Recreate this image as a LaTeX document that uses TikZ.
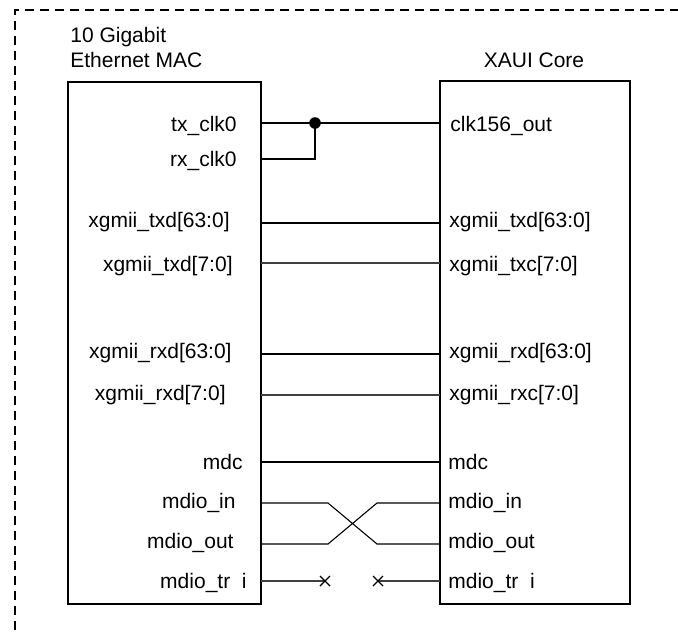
\documentclass[tikz,border=0pt]{standalone}
\usepackage{fontspec}
\setmainfont{Liberation Sans}
\usetikzlibrary{calc}
\begin{document}
\begin{tikzpicture}[x=0.5pt,y=-0.5pt,
  lab/.style={font=\fontsize{10.5}{12}\selectfont, inner sep=0pt},
  llab/.style={lab, anchor=base east},
  rlab/.style={lab, anchor=base west},
  block/.style={draw, line width=1.3pt, anchor=north west, inner sep=0pt, outer sep=0pt},
  wire/.style={line width=0.55pt},
  gwire/.style={line width=0.55pt, draw=black!75},
  border/.style={line width=1pt, dash pattern=on 4.5pt off 3pt}]
\useasboundingbox (0,0) rectangle (678,632);
\begin{scope}
\clip (0,0) rectangle (678,632);
\draw[border] (15,660) -- (15,10) -- (700,10);
\end{scope}
% titles
\node[lab, anchor=base west] (t1) at (70,42) {10 Gigabit};
\node[lab, anchor=base west] (t2) at (70,67) {Ethernet MAC};
\node[lab, anchor=base] (t3) at (534,67) {XAUI Core};
% blocks
\node[block, minimum width=96.5pt, minimum height=261pt] (mac) at (68,82) {};
\node[block, minimum width=95pt, minimum height=261.5pt] (xaui) at (440,81) {};
% left labels
\node[llab] (l1) at (237,131) {tx\_clk0};
\node[llab] (l2) at (237,166) {rx\_clk0};
\node[llab] (l3) at (230,227) {xgmii\_txd[63:0]};
\node[llab] (l4) at (233,271) {xgmii\_txd[7:0]};
\node[llab] (l5) at (232,358) {xgmii\_rxd[63:0]};
\node[llab] (l6) at (226,400) {xgmii\_rxd[7:0]};
\node[llab] (l7) at (243,469) {mdc};
\node[llab] (l8) at (236,508) {mdio\_in};
\node[llab] (l9) at (234,548) {mdio\_out};
\node[llab] (l10) at (247,588) {mdio\_tr~~i};
% right labels
\node[rlab] (r1) at (450,131) {clk156\_out};
\node[rlab] (r3) at (449,227) {xgmii\_txd[63:0]};
\node[rlab] (r4) at (449,271) {xgmii\_txc[7:0]};
\node[rlab] (r5) at (449,358) {xgmii\_rxd[63:0]};
\node[rlab] (r6) at (449,400) {xgmii\_rxc[7:0]};
\node[rlab] (r7) at (448,469) {mdc};
\node[rlab] (r8) at (448,508) {mdio\_in};
\node[rlab] (r9) at (448,548) {mdio\_out};
\node[rlab] (r10) at (448,588) {mdio\_tr~~i};
% port coordinates
\foreach \n/\y in {1/123,2/159,3/223,4/263,5/354,6/395,7/462,8/503,9/544,10/581}{
  \coordinate (pL\n) at (mac.east |- 0,\y);
  \coordinate (pR\n) at (xaui.west |- 0,\y);
}
% clocks
\coordinate (j) at (315,123);
\draw[wire] (pL1) -- (pR1);
\draw[wire] (pL2) -| (j);
\fill (j) circle (2.9pt);
% data
\draw[wire] (pL3) -- (pR3);
\draw[gwire] (pL4) -- (pR4);
\draw[wire] (pL5) -- (pR5);
\draw[gwire] (pL6) -- (pR6);
\draw[wire] (pL7) -- (pR7);
% crossing
\coordinate (c1) at (328,503);
\coordinate (c2) at (377,544);
\coordinate (c3) at (328,544);
\coordinate (c4) at (377,503);
\draw[wire] (pL8) -- (c1) -- (c2) -- (pR9);
\draw[wire] (pL9) -- (c3) -- (c4) -- (pR8);
% mdio_tri
\coordinate (x1) at (325,581);
\coordinate (x2) at (378,581);
\draw[gwire] (pL10) -- (x1);
\draw[gwire] (pR10) -- (x2);
\draw[wire] ($(x1)+(-5,-5)$) -- ($(x1)+(5,5)$) ($(x1)+(-5,5)$) -- ($(x1)+(5,-5)$);
\draw[wire] ($(x2)+(-5,-5)$) -- ($(x2)+(5,5)$) ($(x2)+(-5,5)$) -- ($(x2)+(5,-5)$);
\end{tikzpicture}
\end{document}
